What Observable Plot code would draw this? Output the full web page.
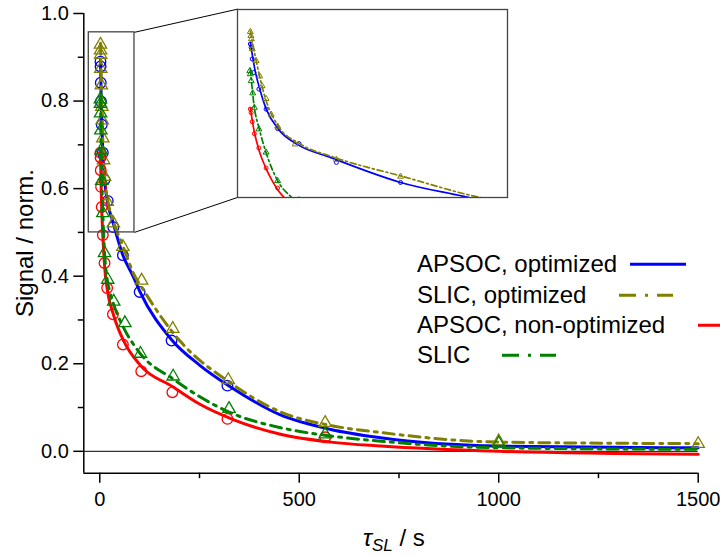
<!DOCTYPE html>
<html><head><meta charset="utf-8">
<script src="https://cdn.jsdelivr.net/npm/d3@7"></script>
<script src="https://cdn.jsdelivr.net/npm/@observablehq/plot@0.6"></script>
<style>
html,body{margin:0;padding:0;background:#fff;overflow:hidden;width:720px;height:556px}
#wrap{position:relative;width:720px;height:556px;font-family:"Liberation Sans",Arial,sans-serif;color:#000}
#wrap svg{position:absolute}
</style></head><body><div id="wrap"></div>
<script>
// ---- data: measured points (t in s, normalized signal) ----
const apsocOptT = [1.8,2.1,2.5,3.1,5.0,7.7,12,20,34,58,100,180,320];
const apsocOptV = [0.890,0.879,0.842,0.799,0.746,0.682,0.620,0.572,0.512,0.448,0.364,0.253,0.150];
const slicOptT = [1.8,2.0,2.2,2.5,4,5.3,6.2,7.7,9.6,12,18.6,34,58,105,183,322,565,1000,1500];
const slicOptV = [0.929,0.916,0.906,0.874,0.836,0.787,0.756,0.715,0.665,0.627,0.570,0.521,0.467,0.390,0.280,0.163,0.065,0.023,0.017];
const apsocT = [1.8,2.1,2.5,3.3,5,7.7,12,18.5,33,58,104,182,320,565];
const apsocV = [0.682,0.671,0.642,0.604,0.558,0.494,0.430,0.373,0.313,0.244,0.183,0.135,0.074,0.032];
const slicT = [1.6,1.8,2.1,2.7,3.3,5,7.7,12,20,35,63,102,184,324,565,1000];
const slicV = [0.804,0.794,0.772,0.733,0.687,0.618,0.544,0.453,0.392,0.342,0.293,0.223,0.171,0.097,0.039,0.018];
// ---- fitted curves ----
const apsocOptFitT = [1.8,3.6,5.5,7.7,12.2,19.7,31.7,58,84,100,180,250,328,453,579,704,1000,1500];
const apsocOptFitV = [0.894,0.804,0.741,0.683,0.619,0.568,0.528,0.448,0.399,0.366,0.255,0.197,0.147,0.083,0.050,0.031,0.012,0.008];
const slicOptFitT = [1.8,4,7.7,12.2,20.5,33.6,58,89,100,180,203,328,453,579,704,1000,1500];
const slicOptFitV = [0.932,0.836,0.709,0.629,0.571,0.527,0.469,0.398,0.382,0.275,0.250,0.156,0.090,0.059,0.043,0.021,0.0175];
const apsocFitT = [1.8,3.2,5.1,7.7,10,12.6,18.5,35,60,104,182,250,336,453,579,704,1000,1500];
const apsocFitV = [0.686,0.613,0.549,0.492,0.453,0.418,0.372,0.310,0.252,0.194,0.148,0.108,0.072,0.039,0.021,0.012,0.0,-0.007];
const slicFitT = [1.8,3.2,5.1,7.7,11.9,16.7,25,35,60,100,184,250,328,453,579,704,1000,1500];
const slicFitV = [0.811,0.693,0.620,0.543,0.455,0.405,0.365,0.335,0.282,0.225,0.165,0.125,0.088,0.054,0.035,0.023,0.008,0.0045];
// ---- axes / layout values ----
const xDomain = [-40, 1500], yDomain = [-0.05, 1.0];
const xMajor = [0, 500, 1000, 1500], xMinor = [250, 750, 1250];
const yMajor = [0, 0.2, 0.4, 0.6, 0.8, 1.0], yMinor = [0.1, 0.3, 0.5, 0.7, 0.9];
const zoomBoxX = [-27.5, 87], zoomBoxY = [0.5, 0.957];
const insetBoxX = [346, 1023], insetBoxY = [0.58, 1.01];
const insetXDomain = [-3, 98], insetYDomain = [0.4, 1.0];
const seriesNames = ["APSOC, optimized", "SLIC, optimized", "APSOC, non-optimized", "SLIC"];

const FONT = '"Liberation Sans", Arial, sans-serif';
const tbl = (t, v) => t.map((x, i) => ({t: x, v: v[i]}));
const series = [
  {name: seriesNames[0], color: "#0000FF", dash: null, symbol: "circle", pts: tbl(apsocOptT, apsocOptV), fit: tbl(apsocOptFitT, apsocOptFitV)},
  {name: seriesNames[1], color: "#808000", dash: "11,6,3,6", symbol: "triangle", pts: tbl(slicOptT, slicOptV), fit: tbl(slicOptFitT, slicOptFitV)},
  {name: seriesNames[2], color: "#FF0000", dash: null, symbol: "circle", pts: tbl(apsocT, apsocV), fit: tbl(apsocFitT, apsocFitV)},
  {name: seriesNames[3], color: "#008000", dash: "11,6,3,6", symbol: "triangle", pts: tbl(slicT, slicV), fit: tbl(slicFitT, slicFitV)}
];

function seriesMarks(s, inset) {
  const lw = inset ? 1.7 : 3;
  const dash = s.dash ? (inset ? "6,3,2,3" : s.dash) : null;
  const r = inset ? (s.symbol === "circle" ? 2 : 2.2) : (s.symbol === "circle" ? 5.3 : 4.6);
  return [
    Plot.line(s.fit, {x: "t", y: "v", stroke: s.color, strokeWidth: lw, curve: "monotone-x", strokeDasharray: dash, clip: inset}),
    Plot.dot(s.pts, {x: "t", y: "v", stroke: s.color, fill: "none", symbol: s.symbol, r, strokeWidth: inset ? 1 : 1.3, clip: inset})
  ];
}

const main = Plot.plot({
  width: 720, height: 556,
  marginLeft: 83.3, marginRight: 22.3, marginTop: 13, marginBottom: 83.3,
  x: {domain: xDomain},
  y: {domain: yDomain},
  style: {fontFamily: FONT, color: "black", background: "white", overflow: "visible"},
  marks: [
    Plot.ruleY([0], {stroke: "black", strokeWidth: 1}),
    ...series.flatMap(s => seriesMarks(s, false)),
    Plot.rect([{x1: zoomBoxX[0], x2: zoomBoxX[1], y1: zoomBoxY[0], y2: zoomBoxY[1]}],
      {x1: "x1", x2: "x2", y1: "y1", y2: "y2", fill: "none", stroke: "#444", strokeWidth: 1.3}),
    Plot.link([
        {x1: zoomBoxX[1], y1: zoomBoxY[1], x2: insetBoxX[0], y2: insetBoxY[1]},
        {x1: zoomBoxX[1], y1: zoomBoxY[0], x2: insetBoxX[0], y2: insetBoxY[0]}],
      {x1: "x1", y1: "y1", x2: "x2", y2: "y2", stroke: "black", strokeWidth: 1}),
    Plot.ruleX([xDomain[0]], {stroke: "black", strokeWidth: 1.5}),
    Plot.ruleY([yDomain[0]], {stroke: "black", strokeWidth: 1.5}),
    Plot.axisX({ticks: xMajor, tickSize: 10, tickPadding: 9, fontSize: 20, label: null, strokeWidth: 1.5, tickFormat: d => String(d)}),
    Plot.axisX({ticks: xMinor, tickSize: 5.5, label: null, strokeWidth: 1.5, tickFormat: () => ""}),
    Plot.axisY({ticks: yMajor, tickSize: 10, tickPadding: 5, fontSize: 20, label: null, strokeWidth: 1.5, tickFormat: d3.format(".1f")}),
    Plot.axisY({ticks: yMinor, tickSize: 5.5, label: null, strokeWidth: 1.5, tickFormat: () => ""})
  ]
});
main.style.left = "0px"; main.style.top = "0px";
const wrap = document.getElementById("wrap");
wrap.appendChild(main);

// ---- inset, placed with the main scales ----
const xs = main.scale("x"), ys = main.scale("y");
const ix0 = xs.apply(insetBoxX[0]), ix1 = xs.apply(insetBoxX[1]);
const iy0 = ys.apply(insetBoxY[1]), iy1 = ys.apply(insetBoxY[0]);
const inset = Plot.plot({
  width: Math.round(ix1 - ix0), height: Math.round(iy1 - iy0),
  margin: 0,
  x: {domain: insetXDomain, axis: null},
  y: {domain: insetYDomain, axis: null},
  style: {background: "white", overflow: "visible"},
  marks: [
    ...series.flatMap(s => seriesMarks(s, true)),
    Plot.frame({stroke: "#444", strokeWidth: 1.3})
  ]
});
inset.style.left = ix0 + "px"; inset.style.top = iy0 + "px";
wrap.appendChild(inset);

// ---- legend and axis titles ----
const legendRows = [
  {y: 272, x1: 630, x2: 686},
  {y: 303, x1: 619, x2: 673},
  {y: 333, x1: 698, x2: 745},
  {y: 363, x1: 502, x2: 556}
];
let ov = `<svg width="720" height="556" style="left:0;top:0;pointer-events:none;overflow:hidden" font-family='${FONT}'>`;
series.forEach((s, i) => {
  const row = legendRows[i];
  ov += `<text x="417" y="${row.y}" font-size="24" fill="black">${s.name}</text>`;
  const dash = s.dash ? ` stroke-dasharray="17,9,3,9"` : "";
  ov += `<line x1="${row.x1}" x2="${row.x2}" y1="${row.y - 7.7}" y2="${row.y - 7.7}" stroke="${s.color}" stroke-width="3"${dash}/>`;
});
ov += `<text transform="translate(32.5,243) rotate(-90)" text-anchor="middle" font-size="24" fill="black">Signal / norm.</text>`;
ov += `<text x="363" y="546" font-size="24" fill="black"><tspan font-style="italic">τ</tspan><tspan font-style="italic" font-size="17" dy="5">SL</tspan><tspan dy="-5"> / s</tspan></text>`;
ov += `</svg>`;
wrap.insertAdjacentHTML("beforeend", ov);
</script></body></html>
